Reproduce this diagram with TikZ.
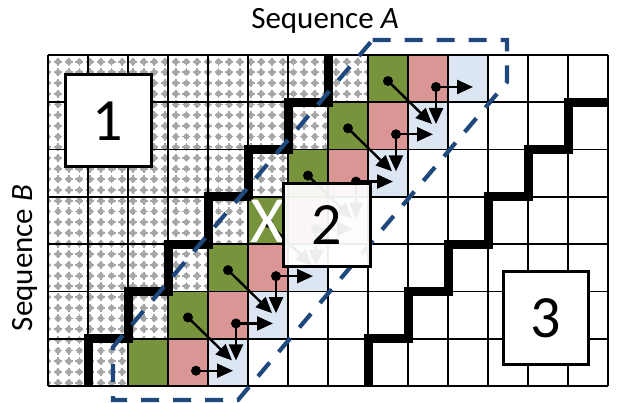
\documentclass[tikz,border=0pt]{standalone}
\usepackage{fontspec}
\setmainfont{Carlito}
\usetikzlibrary{arrows.meta}
\definecolor{cellgreen}{HTML}{77933C}
\definecolor{cellred}{HTML}{D99694}
\definecolor{cellblue}{HTML}{DCE6F2}
\definecolor{banddash}{HTML}{1F497D}
\definecolor{patgray}{HTML}{A6A6A6}
\begin{document}
\begin{tikzpicture}[x=1pt,y=-1pt,
  gridline/.style={line width=1.7pt,black},
  stair/.style={line width=9pt,black,line join=miter},
  flow/.style={line width=2.4pt,black,-{Triangle[length=16pt,width=14pt]}},
  dotmark/.style={fill=black},
  numbox/.style={draw=black,line width=3pt,fill=white,inner sep=0pt,
    font=\fontsize{60}{64}\selectfont},
  band/.style={draw=banddash,line width=4.2pt,dash pattern=on 18pt off 14pt,line join=miter},
  seqlabel/.style={font=\fontsize{31}{36}\selectfont,anchor=base}]
\useasboundingbox (0,0) rectangle (624,403);
\fill[white] (0,0) rectangle (624,403);

% dotted fill of the upper-left region
\begin{scope}
  \clip (48,55) -- (368,55) -- (368,102.29) -- (328,102.29) -- (328,149.57)
    -- (288,149.57) -- (288,196.86) -- (248,196.86) -- (248,244.14)
    -- (208,244.14) -- (208,291.43) -- (168,291.43) -- (168,338.71)
    -- (128,338.71) -- (128,386) -- (48,386) -- cycle;
  \foreach \i in {0,...,30}{
    \foreach \j in {0,...,31}{
      \pgfmathsetmacro\px{47.3+10.7*\i}
      \pgfmathsetmacro\py{51+10.7*\j}
      \fill[patgray] (\px,\py) circle (3);
      \draw[patgray,line width=1.8pt] (\px-4,\py) -- (\px+4,\py)
        (\px,\py-4) -- (\px,\py+4);
    }
  }
\end{scope}

% coloured diagonal band of cells
\foreach \r in {0,...,6}{
  \pgfmathsetmacro\ry{55+47.2857*\r}
  \pgfmathsetmacro\gx{48+40*(8-\r)}
  \fill[cellgreen] (\gx,\ry) rectangle ++(40,47.2857);
  \fill[cellred] (\gx+40,\ry) rectangle ++(40,47.2857);
  \fill[cellblue] (\gx+80,\ry) rectangle ++(40,47.2857);
}

% grid
\foreach \c in {0,...,14}
  \draw[gridline] ({48+40*\c},55) -- ({48+40*\c},386);
\foreach \r in {0,...,7}
  \draw[gridline] (48,{55+47.2857*\r}) -- (608,{55+47.2857*\r});

% region borders
\draw[stair] (328,55) -- (328,102.29) -- (288,102.29) -- (288,149.57)
  -- (248,149.57) -- (248,196.86) -- (208,196.86) -- (208,244.14)
  -- (168,244.14) -- (168,291.43) -- (128,291.43) -- (128,338.71)
  -- (88,338.71) -- (88,386);
\draw[stair] (608,102.29) -- (568,102.29) -- (568,149.57) -- (528,149.57)
  -- (528,196.86) -- (488,196.86) -- (488,244.14) -- (448,244.14)
  -- (448,291.43) -- (408,291.43) -- (408,338.71) -- (368,338.71)
  -- (368,386);

% diagonal dependencies from the green cells
\foreach \r in {0,...,5}{
  \pgfmathsetmacro\ry{55+47.2857*\r}
  \pgfmathsetmacro\gx{48+40*(8-\r)}
  \coordinate (gd\r) at (\gx+20,\ry+26);
  \coordinate (gt\r) at (\gx+64,\ry+69);
  \draw[flow] (gd\r) -- (gt\r);
  \fill[dotmark] (gd\r) circle (5);
}
% right and down dependencies from the red cells
\foreach \r in {0,...,6}{
  \pgfmathsetmacro\ry{55+47.2857*\r}
  \pgfmathsetmacro\gx{48+40*(8-\r)}
  \coordinate (rd\r) at (\gx+68,\ry+32);
  \coordinate (rr\r) at (\gx+105,\ry+32);
  \draw[flow] (rd\r) -- (rr\r);
  \ifnum\r<6
    \coordinate (rb\r) at (\gx+68,\ry+69);
    \draw[flow] (rd\r) -- (rb\r);
  \fi
  \fill[dotmark] (rd\r) circle (5);
}

% blocked cell
\node[text=white,font=\fontsize{66}{70}\selectfont,inner sep=0pt] (xmark) at (268,221) {X};

% dashed band outline
\draw[band] (372.5,40) -- (507,40) -- (507,82) -- (238,400) -- (113,400)
  -- (113,347) -- cycle;

% numbered regions
\node[numbox,minimum width=86pt,minimum height=92pt] (box1) at (108,121) {1};
\node[numbox,fill opacity=0.93,text opacity=1,minimum width=87pt,minimum height=83pt] (box2) at (326.5,225.5) {2};
\node[numbox,minimum width=85pt,minimum height=93pt] (box3) at (545.5,318.5) {3};

% axis labels
\node[seqlabel] (seqA) at (325,29) {Sequence \textit{A}};
\node[seqlabel,rotate=90] (seqB) at (32,258) {Sequence \textit{B}};
\end{tikzpicture}
\end{document}
